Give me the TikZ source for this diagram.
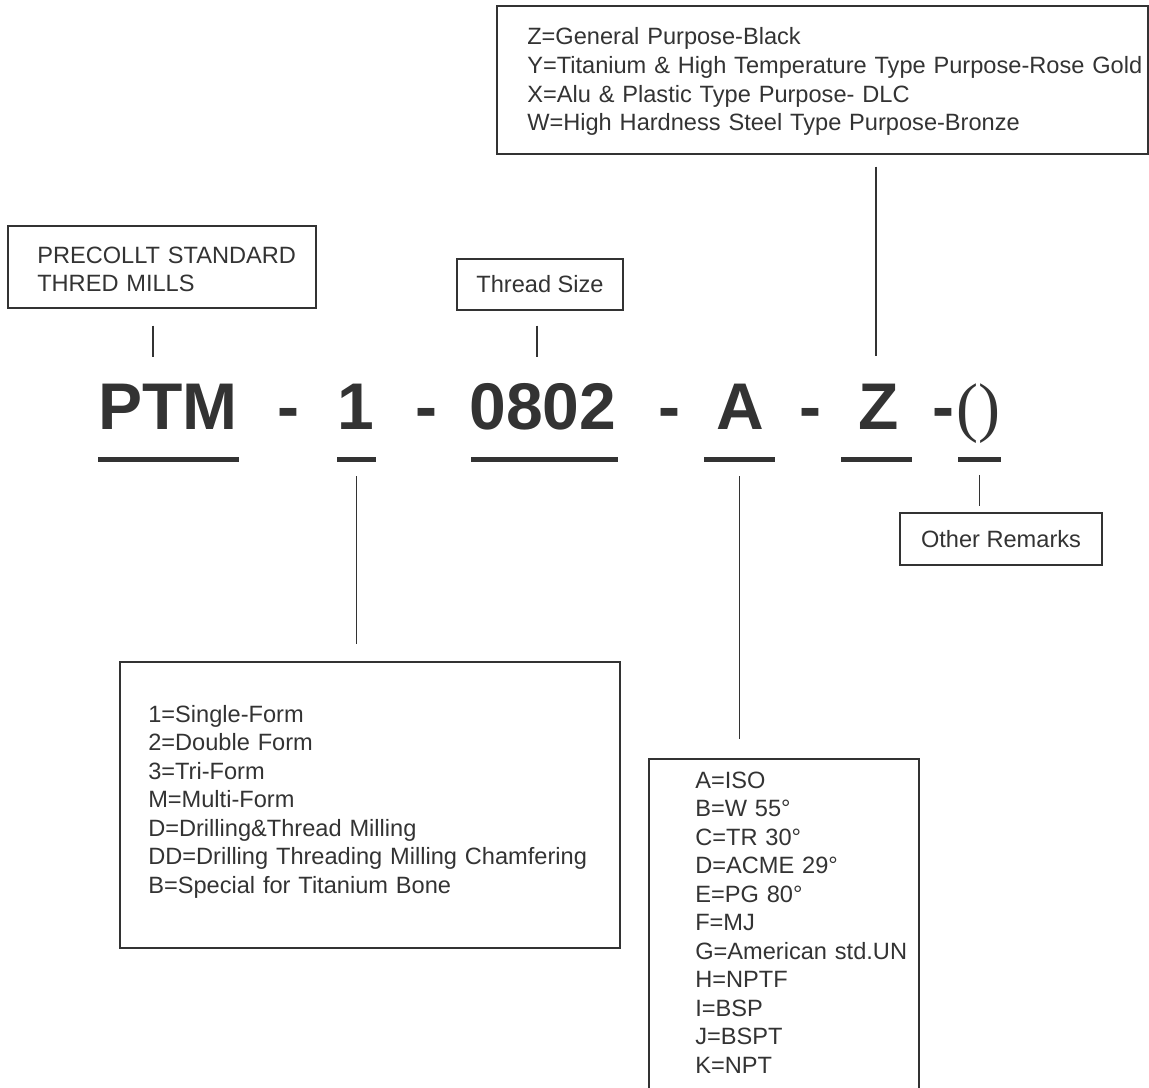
\documentclass[tikz,border=0pt]{standalone}
\usepackage{fontspec}
\setmainfont{Liberation Sans}
\newfontfamily\parenfont{Liberation Serif}
\usepackage{tikz}
\usetikzlibrary{positioning}
\definecolor{inkgrey}{RGB}{51,51,51}

\begin{document}
\begin{tikzpicture}
  [x=0.75pt,y=-0.75pt,
    every node/.style={inner sep=0pt,text=inkgrey},
    box/.style={draw=inkgrey,line width=0.8pt,rectangle,font=\fontsize{17.7pt}{21.4pt}\selectfont},
    list/.style={anchor=base west,align=left,text width=#1,font=\fontsize{17.7pt}{21.4pt}\selectfont},
    code/.style={anchor=base,font=\fontsize{49.5pt}{50pt}\selectfont\bfseries},
    uline/.style={draw=inkgrey,line width=3.75pt},
    link/.style={draw=inkgrey,line width=0.8pt}]
  \useasboundingbox (0,0) rectangle (1149,1088);

  % the code line
  \node[code] (ptm) at (168,429) {PTM};
  \node[code] (d1) at (288,429) {-};
  \node[code] (one) at (356,429) {1};
  \node[code] (d2) at (426,429) {-};
  \node[code] (size) at (543,429) {0802};
  \node[code] (d3) at (669,429) {-};
  \node[code] (form) at (740,429) {A};
  \node[code] (d4) at (810,429) {-};
  \node[code] (coat) at (879,429) {Z};
  \node[code] (d5) at (943,429) {-};
  \node[code,font=\fontsize{49.5pt}{50pt}\parenfont] (rem) at (978,429) {()};
  \foreach \a/\b/\n in {98/239/uptm,337/376/uone,471/618/usize,704/775/uform,841/912/ucoat,958/1001/urem}
  {
    \draw[uline] (\a,459.5) -- (\b,459.5);
    \coordinate (\n) at ({(\a+\b)/2},459.5);
  }

  % boxes above
  \node[box,minimum width=651*0.75pt,minimum height=148*0.75pt] (zbox) at (822.5,80) {};
  \node[list=640*0.75pt] (ztext) at (527,45) {Z=General Purpose-Black\\
    Y=Titanium \& High Temperature Type Purpose-Rose Gold\\
    X=Alu \& Plastic Type Purpose- DLC\\
    W=High Hardness Steel Type Purpose-Bronze};
  \node[box,minimum width=308*0.75pt,minimum height=82*0.75pt] (precollt) at (162,267) {};
  \node[list=270*0.75pt] (ptext) at (37,263) {PRECOLLT STANDARD\\THRED MILLS};
  \node[box,minimum width=166*0.75pt,minimum height=51*0.75pt] (thread) at (540,284.5) {Thread Size};

  % boxes below
  \node[box,minimum width=202*0.75pt,minimum height=52*0.75pt] (remarks) at (1001,539) {Other Remarks};
  \node[box,minimum width=500*0.75pt,minimum height=286*0.75pt] (formbox) at (370,805) {};
  \node[list=460*0.75pt] (formtext) at (148,722) {1=Single-Form\\
    2=Double Form\\
    3=Tri-Form\\
    M=Multi-Form\\
    D=Drilling\&Thread Milling\\
    DD=Drilling Threading Milling Chamfering\\
    B=Special for Titanium Bone};
  \node[box,minimum width=270*0.75pt,minimum height=400*0.75pt] (stdbox) at (784,959) {};
  \node[list=220*0.75pt] (stdtext) at (695,788) {A=ISO\\
    B=W 55°\\
    C=TR 30°\\
    D=ACME 29°\\
    E=PG 80°\\
    F=MJ\\
    G=American std.UN\\
    H=NPTF\\
    I=BSP\\
    J=BSPT\\
    K=NPT};

  % connectors
  \coordinate (ptmtop) at (153,357);
  \coordinate (sizetop) at (537,357);
  \coordinate (coattop) at (876,356);
  \draw[link,shorten <=12.75pt] (precollt.south -| ptmtop) -- (ptmtop);
  \draw[link,shorten <=11.25pt] (thread.south -| sizetop) -- (sizetop);
  \draw[link,shorten <=9pt] (zbox.south -| coattop) -- (coattop);
  \draw[link,shorten <=12.4pt,shorten >=12.75pt] (uone) -- (uone |- formbox.north);
  \draw[link,shorten <=12.4pt,shorten >=14.25pt] (uform) -- (uform |- stdbox.north);
  \draw[link,shorten <=11.6pt,shorten >=4.5pt] (urem) -- (urem |- remarks.north);
\end{tikzpicture}
\end{document}
